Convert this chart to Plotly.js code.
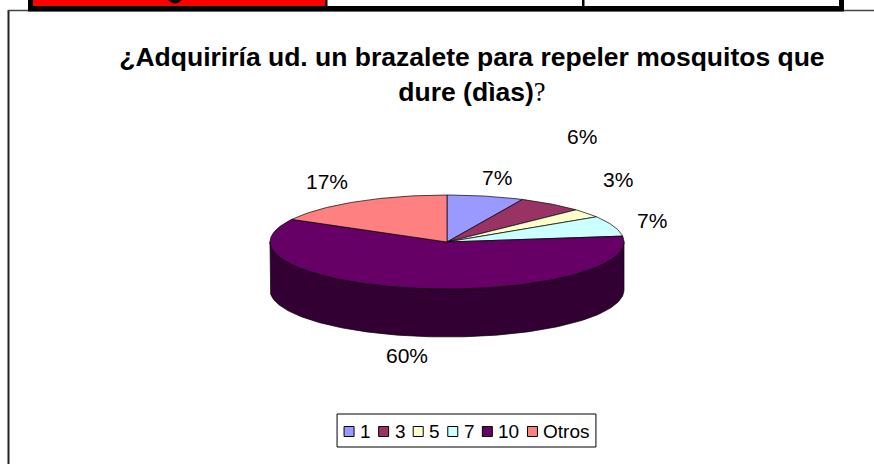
<!DOCTYPE html>
<html><head><meta charset="utf-8">
<script src="https://cdn.plot.ly/plotly-3.0.1.min.js"></script>
<style>html,body{margin:0;padding:0;background:#fff;overflow:hidden}#chart{width:874px;height:464px}</style>
</head><body><div id="chart"></div>
<script>
// ---- data ----
const categories = ['1', '3', '5', '7', '10', 'Otros'];
const percents = [7, 6, 3, 7, 60, 17];
const titleLine1 = '¿Adquiriría ud. un brazalete para repeler mosquitos que';
const titleLine2 = 'dure (dìas)';

// ---- style / layout ----
const topColors = ['#9999FF', '#993366', '#FFFFCC', '#CCFFFF', '#660066', '#FF8080'];
function darker(hex, f) {
  const n = parseInt(hex.slice(1), 16);
  const r = Math.round(((n >> 16) & 255) * f), g = Math.round(((n >> 8) & 255) * f), b = Math.round((n & 255) * f);
  return 'rgb(' + r + ',' + g + ',' + b + ')';
}
const FONT = 'Arial, "Liberation Sans", sans-serif';
const W = 874, H = 464;
const cx = 447, cy = 242, rx = 177, ry = 47, depth = 48;
const labelOff = 30;
const labelNudge = [[5, 11], [13, -43], [7, -15], [10, 5], [-1, -10], [-15, 6]];

const total = percents.reduce((a, b) => a + b, 0);
const traces = [];
const tops = [];
const annotations = [];
let cum = 0;
const TWO_PI = Math.PI * 2;
function arc(a0, a1, dy) {
  const pts = [];
  const n = Math.max(2, Math.ceil(Math.abs(a1 - a0) / (Math.PI / 180)));
  for (let k = 0; k <= n; k++) {
    const a = a0 + (a1 - a0) * k / n;
    pts.push([cx + rx * Math.sin(a), cy - ry * Math.cos(a) + dy]);
  }
  return pts;
}
percents.forEach((v, i) => {
  const a0 = cum / total * TWO_PI;
  cum += v;
  const a1 = cum / total * TWO_PI;
  // side face (front half only)
  const b0 = Math.max(a0, Math.PI / 2), b1 = Math.min(a1, 3 * Math.PI / 2);
  if (b1 > b0) {
    const up = arc(b0, b1, 0), dn = arc(b1, b0, depth);
    const pts = up.concat(dn); pts.push(up[0]);
    traces.push({type: 'scatter', mode: 'lines', x: pts.map(p => p[0]), y: pts.map(p => p[1]),
      fill: 'toself', fillcolor: darker(topColors[i], 0.5), line: {color: '#000', width: 0.7},
      hoverinfo: 'skip', showlegend: false});
  }
  // top face
  const pts = [[cx, cy]].concat(arc(a0, a1, 0)); pts.push([cx, cy]);
  tops.push({type: 'scatter', mode: 'lines', x: pts.map(p => p[0]), y: pts.map(p => p[1]),
    fill: 'toself', fillcolor: topColors[i], line: {color: '#000', width: 0.7},
    hoverinfo: 'skip', showlegend: false});
  // label
  const m = (a0 + a1) / 2;
  let lx = cx + (rx + labelOff) * Math.sin(m);
  let ly = cy - (ry + labelOff) * Math.cos(m) + (Math.cos(m) < 0 ? depth : 0);
  annotations.push({x: lx + labelNudge[i][0], y: ly + labelNudge[i][1], xref: 'x', yref: 'y',
    text: Math.round(v / total * 100) + '%', showarrow: false, xanchor: 'center', yanchor: 'middle',
    font: {family: FONT, size: 21, color: '#000'}});
});

// ---- custom legend ----
const legFont = 19, sq = 10, gapIn = 5, gapOut = 9, pad = 7;
const ctx = document.createElement('canvas').getContext('2d');
ctx.font = legFont + 'px Arial, "Liberation Sans", sans-serif';
const widths = categories.map(c => ctx.measureText(c).width);
let legW = pad * 2;
widths.forEach((w, i) => { legW += sq + gapIn + w + (i < widths.length - 1 ? gapOut : 0); });
const legCx = 466.5, legTop = 414, legBot = 447, legMid = (legTop + legBot) / 2;
const shapes = [];
shapes.push({type: 'rect', xref: 'x', yref: 'y', x0: legCx - legW / 2, x1: legCx + legW / 2, y0: legTop, y1: legBot,
  line: {color: '#000', width: 1}, fillcolor: '#fff'});
let lxp = legCx - legW / 2 + pad;
categories.forEach((c, i) => {
  shapes.push({type: 'rect', xref: 'x', yref: 'y', x0: lxp, x1: lxp + sq, y0: legMid - sq / 2 + 1, y1: legMid + sq / 2 + 1,
    line: {color: '#000', width: 1}, fillcolor: topColors[i]});
  lxp += sq + gapIn;
  annotations.push({x: lxp, y: legMid + 1, xref: 'x', yref: 'y', text: c, showarrow: false,
    xanchor: 'left', yanchor: 'middle', font: {family: FONT, size: legFont, color: '#000'}, borderpad: 0});
  lxp += widths[i] + gapOut;
});

// ---- page decorations (cut-off table above the chart and chart frame) ----
shapes.push({type: 'line', xref: 'x', yref: 'y', x0: 8.5, x1: 8.5, y0: 10, y1: H + 2, line: {color: '#222', width: 2}});
shapes.push({type: 'line', xref: 'x', yref: 'y', x0: 8, x1: W + 2, y0: 10.5, y1: 10.5, line: {color: '#444', width: 1.5}});
shapes.push({type: 'rect', xref: 'x', yref: 'y', x0: 33, x1: 325, y0: -2, y1: 6, line: {width: 0}, fillcolor: '#FF0000'});
shapes.push({type: 'path', xref: 'x', yref: 'y', path: 'M 167 -1 Q 175 8 183 -1 Z', line: {width: 0}, fillcolor: '#000'});
shapes.push({type: 'rect', xref: 'x', yref: 'y', x0: 28, x1: 844, y0: 6, y1: 11.5, line: {width: 0}, fillcolor: '#000'});
shapes.push({type: 'rect', xref: 'x', yref: 'y', x0: 28, x1: 33, y0: -2, y1: 11, line: {width: 0}, fillcolor: '#000'});
shapes.push({type: 'rect', xref: 'x', yref: 'y', x0: 325, x1: 327.5, y0: -2, y1: 8, line: {width: 0}, fillcolor: '#000'});
shapes.push({type: 'rect', xref: 'x', yref: 'y', x0: 582, x1: 584.5, y0: -2, y1: 8, line: {width: 0}, fillcolor: '#000'});
shapes.push({type: 'rect', xref: 'x', yref: 'y', x0: 839, x1: 844, y0: -2, y1: 8, line: {width: 0}, fillcolor: '#000'});

const layout = {
  width: W, height: H,
  margin: {l: 0, r: 0, t: 0, b: 0, pad: 0},
  paper_bgcolor: '#fff', plot_bgcolor: '#fff',
  showlegend: false,
  xaxis: {range: [0, W], visible: false, fixedrange: true},
  yaxis: {range: [H, 0], visible: false, fixedrange: true},
  title: {
    text: '<b>' + titleLine1 + '<br>' + titleLine2 + '</b><span style="font-family:\'Liberation Serif\', \'Times New Roman\', serif;font-weight:normal">?</span>',
    x: 0.54, xanchor: 'center', y: 0.857, yanchor: 'top',
    font: {family: FONT, size: 26.5, color: '#000'}
  },
  shapes: shapes,
  annotations: annotations
};
Plotly.newPlot('chart', traces.concat(tops), layout, {displayModeBar: false, staticPlot: true});
</script></body></html>
